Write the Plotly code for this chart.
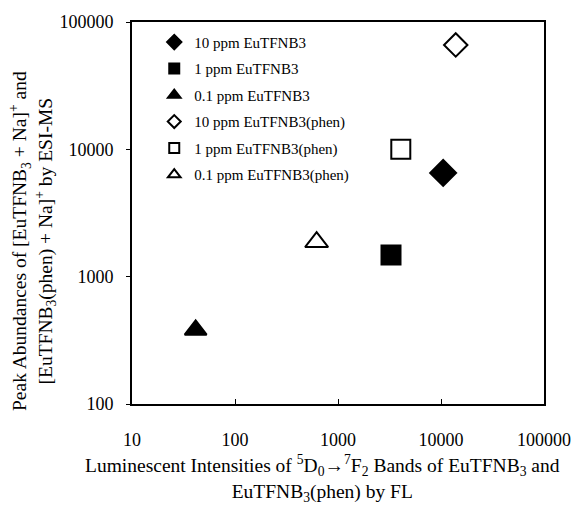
import plotly.graph_objects as go

series_names = ["10 ppm EuTFNB3", "1 ppm EuTFNB3", "0.1 ppm EuTFNB3",
                "10 ppm EuTFNB3(phen)", "1 ppm EuTFNB3(phen)", "0.1 ppm EuTFNB3(phen)"]
fl_intensity = [10500, 3270, 41.5, 13900, 4070, 620]
esi_abundance = [6530, 1480, 382, 66000, 10000, 1870]
symbols = ["diamond", "square", "triangle-up", "diamond-open", "square-open", "triangle-up-open"]
sizes = [20, 19, 19, 18, 19, 20]
legend_sizes = [11, 10, 11, 10, 10, 11]

x_ticks = [10, 100, 1000, 10000, 100000]
y_ticks = [100, 1000, 10000, 100000]

x_title = ("Luminescent Intensities of <sup>5</sup>D<sub>0</sub>\u2192<sup>7</sup>F<sub>2</sub> "
           "Bands of EuTFNB<sub>3</sub> and<br>EuTFNB<sub>3</sub>(phen) by FL")
y_title = ("Peak Abundances of [EuTFNB<sub>3</sub> + Na]<sup>+</sup> and<br>"
           "[EuTFNB<sub>3</sub>(phen) + Na]<sup>+</sup> by ESI-MS")

font_family = "Liberation Serif, Times New Roman, serif"

fig = go.Figure()
for i, name in enumerate(series_names):
    fig.add_trace(go.Scatter(
        x=[fl_intensity[i]], y=[esi_abundance[i]], mode="markers", name=name,
        legendgroup=f"g{i}", showlegend=False,
        marker=dict(symbol=symbols[i], size=sizes[i], color="black",
                    line=dict(color="black", width=2)),
    ))
    # legend entry with smaller symbol
    fig.add_trace(go.Scatter(
        x=[None], y=[None], mode="markers", name=name,
        legendgroup=f"g{i}", showlegend=True,
        marker=dict(symbol=symbols[i], size=legend_sizes[i], color="black",
                    line=dict(color="black", width=2)),
    ))

fig.update_layout(
    width=583, height=508,
    margin=dict(l=132, r=30, t=22, b=104),
    paper_bgcolor="white", plot_bgcolor="white",
    font=dict(family=font_family, size=18, color="black"),
    showlegend=True,
    legend=dict(x=0.054, y=0.99, xanchor="left", yanchor="top",
                bgcolor="rgba(0,0,0,0)", font=dict(size=15, family=font_family),
                itemsizing="trace", tracegroupgap=4, traceorder="grouped"),
    xaxis=dict(type="log", range=[1, 5], tickvals=x_ticks,
               ticktext=[str(v) for v in x_ticks],
               showline=True, linecolor="black", linewidth=2, mirror=True,
               ticks="inside", ticklen=5, tickcolor="black", showgrid=False,
               zeroline=False, ticklabelstandoff=18, tickfont=dict(size=18)),
    yaxis=dict(type="log", range=[2, 5], tickvals=y_ticks,
               ticktext=[str(v) for v in y_ticks],
               showline=True, linecolor="black", linewidth=2, mirror=True,
               ticks="outside", ticklen=4, tickcolor="black", showgrid=False,
               zeroline=False, ticklabelstandoff=9, tickfont=dict(size=18)),
    annotations=[
        dict(text=x_title, xref="paper", yref="paper", x=0.463, y=-0.196,
             xanchor="center", yanchor="middle", showarrow=False,
             font=dict(size=19.5, family=font_family)),
        dict(text=y_title, xref="paper", yref="paper", x=-0.24, y=0.427,
             xanchor="center", yanchor="middle", showarrow=False, textangle=-90,
             font=dict(size=19.5, family=font_family)),
    ],
)

fig.write_html("out.html")
